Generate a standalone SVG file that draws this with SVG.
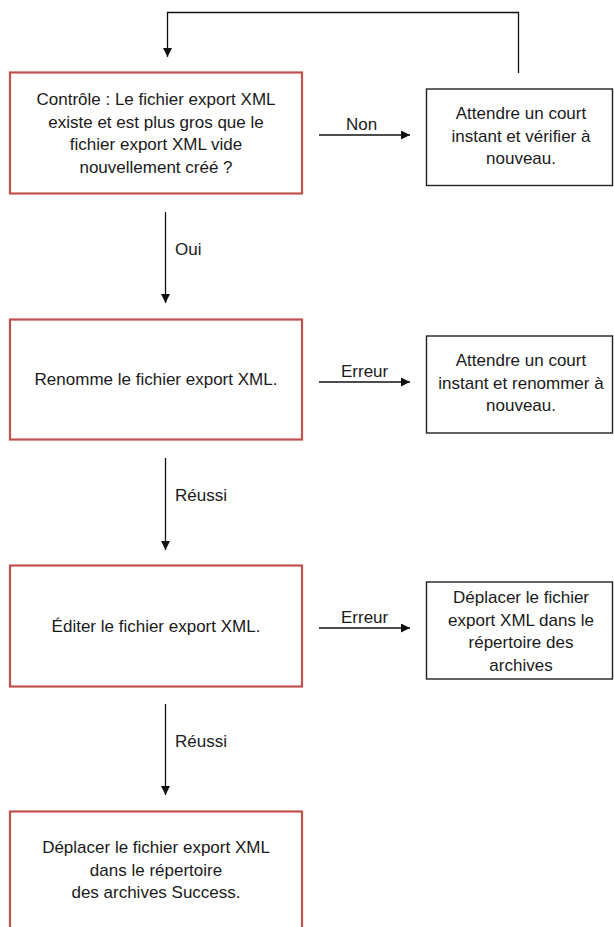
<svg xmlns="http://www.w3.org/2000/svg" width="614" height="927" viewBox="0 0 614 927">
<style>
.red{fill:#fff;stroke:#c0504d;stroke-width:2.2}
.blk{fill:#fff;stroke:#222;stroke-width:1.4}
.t{font-family:"Liberation Sans",Arial,sans-serif;font-size:17px;fill:#1a1a1a;text-anchor:middle}
.l{font-family:"Liberation Sans",Arial,sans-serif;font-size:17px;fill:#1a1a1a}
.c{fill:none;stroke:#111;stroke-width:1.3}
</style>
<defs>
<marker id="ah" viewBox="0 0 10 10" refX="10" refY="5" markerWidth="9" markerHeight="9" markerUnits="userSpaceOnUse" orient="auto">
<path d="M0,0 L10,5 L0,10 z" fill="#111"/>
</marker>
</defs>
<rect width="614" height="927" fill="#fff"/>
<g id="connectors">
<polyline class="c" points="518.5,73 518.5,12.5 167.5,12.5 167.5,57" marker-end="url(#ah)"/>
<line class="c" x1="319" y1="135" x2="410" y2="135" marker-end="url(#ah)"/>
<text class="l" x="346" y="130">Non</text>
<line class="c" x1="165.5" y1="212" x2="165.5" y2="303" marker-end="url(#ah)"/>
<text class="l" x="175" y="255">Oui</text>
<line class="c" x1="319" y1="382" x2="410" y2="382" marker-end="url(#ah)"/>
<text class="l" x="341" y="377">Erreur</text>
<line class="c" x1="165.5" y1="458" x2="165.5" y2="550" marker-end="url(#ah)"/>
<text class="l" x="175" y="501">Réussi</text>
<line class="c" x1="319" y1="628" x2="410" y2="628" marker-end="url(#ah)"/>
<text class="l" x="341" y="623">Erreur</text>
<line class="c" x1="165.5" y1="704" x2="165.5" y2="795" marker-end="url(#ah)"/>
<text class="l" x="175" y="747">Réussi</text>
</g>
<g id="controle">
<rect class="red" x="10" y="72.5" width="292" height="121"/>
<text class="t" x="156" y="105">Contrôle : Le fichier export XML</text>
<text class="t" x="156" y="127.5">existe et est plus gros que le</text>
<text class="t" x="156" y="150">fichier export XML vide</text>
<text class="t" x="156" y="172.5">nouvellement créé ?</text>
</g>
<g id="attendre1">
<rect class="blk" x="426.5" y="89" width="186" height="96.5"/>
<text class="t" x="521" y="119">Attendre un court</text>
<text class="t" x="521" y="141.5">instant et vérifier à</text>
<text class="t" x="521" y="164">nouveau.</text>
</g>
<g id="renomme">
<rect class="red" x="10" y="319.5" width="292" height="120"/>
<text class="t" x="156" y="385">Renomme le fichier export XML.</text>
</g>
<g id="attendre2">
<rect class="blk" x="426.5" y="336" width="186" height="97"/>
<text class="t" x="521" y="366">Attendre un court</text>
<text class="t" x="521" y="388.5">instant et renommer à</text>
<text class="t" x="521" y="411">nouveau.</text>
</g>
<g id="editer">
<rect class="red" x="10" y="565.5" width="292" height="121"/>
<text class="t" x="156" y="632">Éditer le fichier export XML.</text>
</g>
<g id="deplacer-archives">
<rect class="blk" x="426.5" y="582" width="186" height="97"/>
<text class="t" x="521" y="603">Déplacer le fichier</text>
<text class="t" x="521" y="625.5">export XML dans le</text>
<text class="t" x="521" y="648">répertoire des</text>
<text class="t" x="521" y="670.5">archives</text>
</g>
<g id="deplacer-success">
<rect class="red" x="10" y="811.5" width="292" height="140"/>
<text class="t" x="156" y="853">Déplacer le fichier export XML</text>
<text class="t" x="156" y="875.5">dans le répertoire</text>
<text class="t" x="156" y="898">des archives Success.</text>
</g>
</svg>
